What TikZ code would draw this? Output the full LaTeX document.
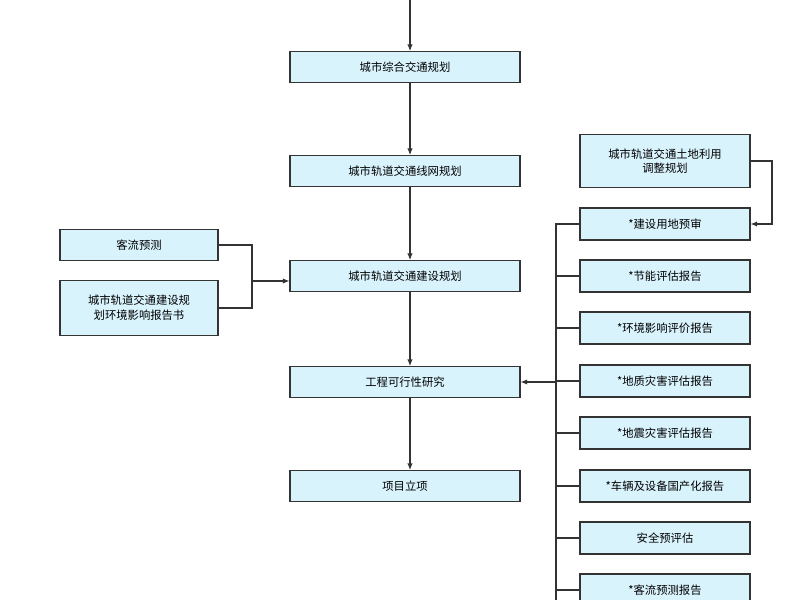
\documentclass[tikz,border=0pt]{standalone}
\usepackage{fontspec}
\newfontfamily\cjk{Noto Sans CJK SC}
\usetikzlibrary{arrows.meta}
\begin{document}
\begin{tikzpicture}[x=0.75pt,y=-0.75pt,
 box/.style={draw=black!80,fill=cyan!15,line width=0.8pt,inner sep=0pt,font=\cjk\fontsize{8.5}{11}\selectfont,align=center},
 ln/.style={draw=black!80,line width=0.8pt},
 ar/.style={ln,-{Latex[length=5pt,width=4pt]}}]
\useasboundingbox (0,0) rectangle (800,600);
\begin{scope}
\clip (0,0) rectangle (800,600);
\node[box,minimum width=172.5pt,minimum height=23pt] (a) at (405,67) {城市综合交通规划};
\node[box,minimum width=172.5pt,minimum height=23pt] (b) at (405,171) {城市轨道交通线网规划};
\node[box,minimum width=172.5pt,minimum height=23pt] (c) at (405,276) {城市轨道交通建设规划};
\node[box,minimum width=172.5pt,minimum height=23pt] (d) at (405,382) {工程可行性研究};
\node[box,minimum width=172.5pt,minimum height=23pt] (e) at (405,486) {项目立项};
\coordinate (top) at (410,0);
\draw[ar] (top) -- (top|-a.north);
\draw[ar] (a.south-|top) -- (b.north-|top);
\draw[ar] (b.south-|top) -- (c.north-|top);
\draw[ar] (c.south-|top) -- (d.north-|top);
\draw[ar] (d.south-|top) -- (e.north-|top);
\node[box,minimum width=118.5pt,minimum height=23pt] (l1) at (139,245) {客流预测};
\node[box,minimum width=118.5pt,minimum height=41pt] (l2) at (139,308) {城市轨道交通建设规\\划环境影响报告书};
\coordinate (j) at (252,281);
\draw[ln] (l1.east) -| (j);
\draw[ln] (l2.east) -| (j);
\draw[ar] (j) -- (c.west|-j);
\node[box,minimum width=127.5pt,minimum height=40pt] (r0) at (665,161) {城市轨道交通土地利用\\调整规划};
\foreach \n/\y/\t in {1/224/*建设用地预审,2/276/*节能评估报告,3/328/*环境影响评价报告,4/381/*地质灾害评估报告,5/433/*地震灾害评估报告,6/486/*车辆及设备国产化报告,7/538/安全预评估,8/590/*客流预测报告}
 \node[box,minimum width=127.5pt,minimum height=24pt] (r\n) at (665,\y) {\t};
\coordinate (k) at (772,161);
\draw[ar] (r0.east) -- (k) |- (r1.east);
\coordinate (bt) at (556,600);
\coordinate (bb) at (556,224);
\draw[ln] (r1.west) -- (bb) -- (bt);
\foreach \n in {2,...,8} \draw[ln] (r\n.west) -- (r\n.west-|bb);
\draw[ar] (d.east-|bb) -- (d.east);
\end{scope}
\end{tikzpicture}
\end{document}
